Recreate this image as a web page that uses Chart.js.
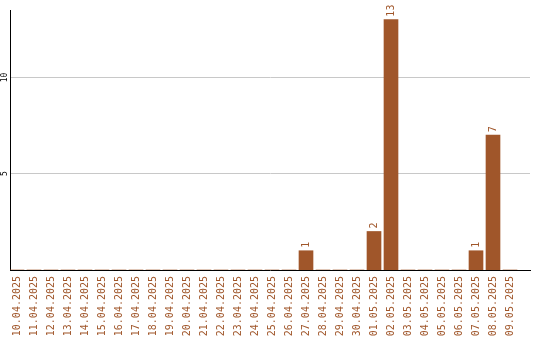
<!DOCTYPE html>
<html>
<head>
<meta charset="utf-8">
<script src="https://cdn.jsdelivr.net/npm/chart.js@4"></script>
<style>
  html, body { margin: 0; padding: 0; background: #fff; }
  #wrap { width: 540px; height: 340px; }
</style>
</head>
<body>
<div id="wrap"><canvas id="c"></canvas></div>
<script>
// Daily counts, 10.04.2025 – 09.05.2025
const categories = [
  "10.04.2025", "11.04.2025", "12.04.2025", "13.04.2025", "14.04.2025",
  "15.04.2025", "16.04.2025", "17.04.2025", "18.04.2025", "19.04.2025",
  "20.04.2025", "21.04.2025", "22.04.2025", "23.04.2025", "24.04.2025",
  "25.04.2025", "26.04.2025", "27.04.2025", "28.04.2025", "29.04.2025",
  "30.04.2025", "01.05.2025", "02.05.2025", "03.05.2025", "04.05.2025",
  "05.05.2025", "06.05.2025", "07.05.2025", "08.05.2025", "09.05.2025"
];
const counts = [
  0, 0, 0, 0, 0, 0, 0, 0, 0, 0,
  0, 0, 0, 0, 0, 0, 0, 1, 0, 0,
  0, 2, 13, 0, 0, 0, 0, 1, 7, 0
];
const yTicks = [5, 10];

const BROWN = '#a0562a';
const MONO = "'DejaVu Sans Mono', 'Liberation Mono', monospace";

// Writes each non-zero value vertically just above its bar
const valueLabels = {
  id: 'valueLabels',
  afterDatasetsDraw(chart) {
    const ctx = chart.ctx;
    const meta = chart.getDatasetMeta(0);
    ctx.save();
    ctx.fillStyle = BROWN;
    ctx.font = '10px ' + MONO;
    ctx.textAlign = 'left';
    ctx.textBaseline = 'middle';
    meta.data.forEach((bar, i) => {
      const v = counts[i];
      if (!v) return;
      ctx.save();
      ctx.translate(bar.x, bar.y - 3);
      ctx.rotate(-Math.PI / 2);
      ctx.fillText(String(v), 0, 0);
      ctx.restore();
    });
    ctx.restore();
  }
};

// Vertical y-axis tick labels, centred on their grid lines
const yLabels = {
  id: 'yLabels',
  afterDraw(chart) {
    const ctx = chart.ctx;
    const y = chart.scales.y;
    ctx.save();
    ctx.fillStyle = '#000';
    ctx.font = '8px ' + MONO;
    ctx.textAlign = 'center';
    ctx.textBaseline = 'middle';
    yTicks.forEach(v => {
      ctx.save();
      ctx.translate(y.left + 4.5, y.getPixelForValue(v));
      ctx.rotate(-Math.PI / 2);
      ctx.fillText(String(v), 0, 0);
      ctx.restore();
    });
    ctx.restore();
  }
};

new Chart(document.getElementById('c'), {
  type: 'bar',
  data: {
    datasets: [{
      data: counts.map((v, i) => ({ x: i, y: v })),
      backgroundColor: BROWN,
      borderWidth: 0,
      barThickness: 14
    }]
  },
  options: {
    responsive: true,
    maintainAspectRatio: false,
    animation: false,
    layout: { padding: { top: 10, right: 10, left: 0, bottom: 0 } },
    plugins: { legend: { display: false }, tooltip: { enabled: false } },
    scales: {
      x: {
        type: 'linear',
        bounds: 'data',
        offset: false,
        min: -7 / 17,
        max: 30 + 3 / 17,
        afterBuildTicks(scale) {
          scale.ticks = categories.map((_, i) => ({ value: i }));
        },
        afterFit(scale) { scale.height = 70; },
        ticks: {
          autoSkip: false,
          minRotation: 90,
          maxRotation: 90,
          padding: 6,
          color: BROWN,
          font: { family: MONO, size: 10 },
          callback: (v) => categories[v]
        },
        grid: { display: false, drawTicks: false, offset: false },
        border: { display: true, color: '#000', width: 1 }
      },
      y: {
        min: 0,
        max: 13.5,
        afterBuildTicks(scale) {
          scale.ticks = yTicks.map(v => ({ value: v }));
        },
        afterFit(scale) { scale.width = 10; },
        ticks: { display: false },
        grid: { color: '#c8c8c8', lineWidth: 1, drawTicks: false },
        border: { display: true, color: '#000', width: 1 }
      }
    }
  },
  plugins: [valueLabels, yLabels]
});
</script>
</body>
</html>
